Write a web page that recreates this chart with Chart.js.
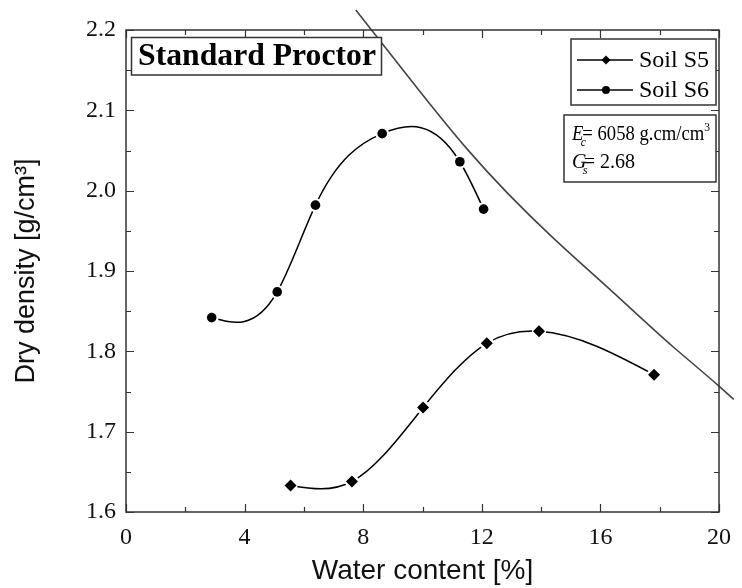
<!DOCTYPE html>
<html>
<head>
<meta charset="utf-8">
<title>Standard Proctor</title>
<script src="https://cdn.jsdelivr.net/npm/chart.js@4.4.0/dist/chart.umd.min.js"></script>
<style>
  html, body { margin: 0; padding: 0; background: #fff; }
  #wrap { width: 742px; height: 588px; }
</style>
</head>
<body>
<div id="wrap"><canvas id="chart" width="742" height="588"></canvas></div>
<script>
// ── Data ─────────────────────────────────────────────────────────────────────
const S5_X = [5.55, 7.62, 10.02, 12.17, 13.93, 17.81];
const S5_Y = [1.633, 1.638, 1.730, 1.810, 1.825, 1.771];

const S6_X = [2.89, 5.10, 6.39, 8.64, 11.26, 12.06];
const S6_Y = [1.842, 1.874, 1.982, 2.071, 2.036, 1.977];

// zero-air-voids line
const ZAV_X = [7.75, 9.88, 11.50, 14.44, 16.44, 18.44, 19.99, 20.50];
const ZAV_Y = [2.225, 2.125, 2.052, 1.940, 1.873, 1.806, 1.757, 1.740];

const X_TICKS = [0, 4, 8, 12, 16, 20];
const Y_TICKS = [1.6, 1.7, 1.8, 1.9, 2.0, 2.1, 2.2];

const pts = (xs, ys) => xs.map((x, i) => ({ x, y: ys[i] }));

// ── Fonts / colours ──────────────────────────────────────────────────────────
const SERIF = '"Liberation Serif", "Times New Roman", serif';
const SANS  = '"Liberation Sans", Arial, sans-serif';
const INK   = '#111';
const FRAME = '#333';

// datasets whose curve is a natural cubic spline (like the original plot)
const SPLINED = new Set(['S5 fit', 'S6 fit', 'ZAV']);

// Replace Chart.js' bezier control points with natural-spline ones (pixel space)
const naturalSpline = {
  id: 'naturalSpline',
  beforeDatasetDraw(chart, args) {
    const ds = chart.data.datasets[args.index];
    if (!SPLINED.has(ds.label)) return;
    const p = args.meta.data;
    const n = p.length;
    if (n < 3) return;
    const xs = p.map(q => q.x), ys = p.map(q => q.y);
    const h = [];
    for (let i = 0; i < n - 1; i++) h.push(xs[i + 1] - xs[i]);

    // tridiagonal solve for second derivatives, M[0] = M[n-1] = 0
    const M = new Array(n).fill(0);
    const cP = new Array(n).fill(0), dP = new Array(n).fill(0);
    for (let i = 1; i < n - 1; i++) {
      const a = h[i - 1], b = 2 * (h[i - 1] + h[i]), c = h[i];
      const r = 6 * ((ys[i + 1] - ys[i]) / h[i] - (ys[i] - ys[i - 1]) / h[i - 1]);
      const den = b - a * cP[i - 1];
      cP[i] = c / den;
      dP[i] = (r - a * dP[i - 1]) / den;
    }
    for (let i = n - 2; i >= 1; i--) M[i] = dP[i] - cP[i] * M[i + 1];

    for (let i = 0; i < n - 1; i++) {
      const s  = (ys[i + 1] - ys[i]) / h[i];
      const d0 = s - h[i] * (2 * M[i] + M[i + 1]) / 6;
      const d1 = s + h[i] * (M[i] + 2 * M[i + 1]) / 6;
      p[i].cp2x = xs[i] + h[i] / 3;
      p[i].cp2y = ys[i] + d0 * h[i] / 3;
      p[i + 1].cp1x = xs[i + 1] - h[i] / 3;
      p[i + 1].cp1y = ys[i + 1] - d1 * h[i] / 3;
    }
    p[0].cp1x = xs[0]; p[0].cp1y = ys[0];
    p[n - 1].cp2x = xs[n - 1]; p[n - 1].cp2y = ys[n - 1];
    args.meta.dataset._pointsUpdated = true;
  },
};

// ── Frame with inward major/minor ticks on all four sides ────────────────────
const frameTicks = {
  id: 'frameTicks',
  afterDatasetsDraw(chart) {
    const { ctx, chartArea: a, scales: { x, y } } = chart;
    const MAJ = 8, MIN = 5;
    ctx.save();
    ctx.strokeStyle = FRAME;
    ctx.lineWidth = 1.2;
    ctx.beginPath();
    const xv = [];
    for (let i = 0; i < X_TICKS.length; i++) {
      xv.push([X_TICKS[i], MAJ]);
      if (i < X_TICKS.length - 1) xv.push([(X_TICKS[i] + X_TICKS[i + 1]) / 2, MIN]);
    }
    xv.forEach(([v, len]) => {
      const px = Math.round(x.getPixelForValue(v)) + 0.5;
      ctx.moveTo(px, a.bottom); ctx.lineTo(px, a.bottom - len);
      ctx.moveTo(px, a.top);    ctx.lineTo(px, a.top + len);
    });
    const yv = [];
    for (let i = 0; i < Y_TICKS.length; i++) {
      yv.push([Y_TICKS[i], MAJ]);
      if (i < Y_TICKS.length - 1) yv.push([(Y_TICKS[i] + Y_TICKS[i + 1]) / 2, MIN]);
    }
    yv.forEach(([v, len]) => {
      const py = Math.round(y.getPixelForValue(v)) + 0.5;
      ctx.moveTo(a.left, py);  ctx.lineTo(a.left + len, py);
      ctx.moveTo(a.right, py); ctx.lineTo(a.right - len, py);
    });
    ctx.stroke();
    ctx.lineWidth = 1.5;
    ctx.strokeRect(a.left, a.top, a.right - a.left, a.bottom - a.top);
    ctx.restore();
  },
};

// draw a run of text pieces, squeezed horizontally to a target width
function drawRich(ctx, parts, x, baseline, targetW) {
  let w = 0;
  parts.forEach(p => { ctx.font = p.font; p.w = ctx.measureText(p.t).width + (p.dx || 0); w += p.w; });
  const sx = targetW ? targetW / w : 1;
  ctx.save();
  ctx.translate(x, baseline);
  ctx.scale(sx, 1);
  ctx.textBaseline = 'alphabetic';
  ctx.textAlign = 'left';
  let cx = 0;
  parts.forEach(p => { ctx.font = p.font; ctx.fillText(p.t, cx, p.dy || 0); cx += p.w; });
  ctx.restore();
}

function box(ctx, l, t, r, b) {
  ctx.fillStyle = '#fff';
  ctx.fillRect(l, t, r - l, b - t);
  ctx.strokeStyle = FRAME;
  ctx.lineWidth = 1.5;
  ctx.strokeRect(l, t, r - l, b - t);
}

// ── Title box, legend box, parameter box ─────────────────────────────────────
const annotations = {
  id: 'annotations',
  afterDraw(chart) {
    const { ctx } = chart;
    ctx.save();

    // "Standard Proctor"
    box(ctx, 131.5, 37.5, 381.5, 75);
    ctx.fillStyle = '#000';
    drawRich(ctx, [{ t: 'Standard Proctor', font: `bold 32px ${SERIF}` }], 138, 65, 238);

    // legend
    box(ctx, 571, 39, 716, 105);
    const rows = [
      { label: 'Soil S5', style: 'diamond', y: 60, base: 67 },
      { label: 'Soil S6', style: 'circle',  y: 90, base: 97 },
    ];
    rows.forEach(r => {
      ctx.strokeStyle = '#000';
      ctx.lineWidth = 1.5;
      ctx.beginPath();
      ctx.moveTo(577, r.y); ctx.lineTo(633, r.y);
      ctx.stroke();
      ctx.fillStyle = '#000';
      ctx.beginPath();
      if (r.style === 'diamond') {
        ctx.moveTo(606, r.y - 4.5); ctx.lineTo(610.5, r.y); ctx.lineTo(606, r.y + 4.5); ctx.lineTo(601.5, r.y);
        ctx.closePath();
      } else {
        ctx.arc(606, r.y, 4, 0, Math.PI * 2);
      }
      ctx.fill();
      drawRich(ctx, [{ t: r.label, font: `24px ${SERIF}` }], 639, r.base, 70);
    });

    // parameters
    box(ctx, 564, 115, 716, 182);
    ctx.fillStyle = '#000';
    drawRich(ctx, [
      { t: 'E', font: `italic 21px ${SERIF}`, dx: -3 },
      { t: 'c', font: `italic 13px ${SERIF}`, dy: 6, dx: -4 },
      { t: '= 6058 g.cm/cm', font: `21px ${SERIF}` },
      { t: '3', font: `13px ${SERIF}`, dy: -9 },
    ], 572, 140, 138);
    drawRich(ctx, [
      { t: 'G', font: `italic 21px ${SERIF}`, dx: -4 },
      { t: 's', font: `italic 13px ${SERIF}`, dy: 6, dx: -4 },
      { t: '= 2.68', font: `21px ${SERIF}` },
    ], 572, 168, 63);

    ctx.restore();
  },
};

// ── Chart ────────────────────────────────────────────────────────────────────
const lineDs = (xs, ys, order) => ({
  data: pts(xs, ys),
  showLine: true,
  tension: 0.4,
  borderColor: '#000',
  borderWidth: 1.5,
  pointRadius: 7,
  pointBackgroundColor: '#fff',
  pointBorderWidth: 0,
  order,
});

const markerDs = (xs, ys, style, radius, order) => ({
  data: pts(xs, ys),
  showLine: false,
  pointStyle: style,
  pointRadius: radius,
  pointBackgroundColor: '#000',
  pointBorderColor: '#000',
  pointBorderWidth: 0,
  order,
});

new Chart(document.getElementById('chart'), {
  type: 'scatter',
  data: {
    datasets: [
      { label: 'Soil S5', ...markerDs(S5_X, S5_Y, 'rectRot', 6, 0) },
      { label: 'Soil S6', ...markerDs(S6_X, S6_Y, 'circle', 4.8, 1) },
      { label: 'S5 fit', ...lineDs(S5_X, S5_Y, 2) },
      { label: 'S6 fit', ...lineDs(S6_X, S6_Y, 3) },
      {
        label: 'ZAV',
        data: pts(ZAV_X, ZAV_Y),
        showLine: true,
        tension: 0.4,
        borderColor: '#444',
        borderWidth: 1.6,
        pointRadius: 0,
        clip: false,
        order: 4,
      },
    ],
  },
  options: {
    responsive: false,
    animation: false,
    devicePixelRatio: 1,
    layout: { padding: { top: 30, right: 15, left: 0, bottom: 0 } },
    plugins: { legend: { display: false }, tooltip: { enabled: false } },
    scales: {
      x: {
        type: 'linear',
        min: 0, max: 20,
        afterBuildTicks: s => { s.ticks = X_TICKS.map(v => ({ value: v })); },
        afterFit: s => { s.height = 76; },
        grid: { display: false, drawTicks: false },
        border: { display: false },
        ticks: {
          color: INK, padding: 11, maxRotation: 0,
          font: { family: SERIF, size: 24 },
          callback: v => String(v),
        },
        title: {
          display: true, text: 'Water content [%]', color: INK,
          font: { family: SANS, size: 28 },
          padding: { top: 0, bottom: 0 },
        },
      },
      y: {
        type: 'linear',
        min: 1.6, max: 2.2,
        afterBuildTicks: s => { s.ticks = Y_TICKS.map(v => ({ value: v })); },
        afterFit: s => { s.width = 126; },
        grid: { display: false, drawTicks: false },
        border: { display: false },
        ticks: {
          color: INK, padding: 10,
          font: { family: SERIF, size: 24 },
          callback: v => Number(v).toFixed(1),
        },
        title: {
          display: true, text: 'Dry density [g/cm³]', color: INK,
          font: { family: SANS, size: 27 },
          padding: { top: 10, bottom: 0 },
        },
      },
    },
  },
  plugins: [naturalSpline, frameTicks, annotations],
});
</script>
</body>
</html>
